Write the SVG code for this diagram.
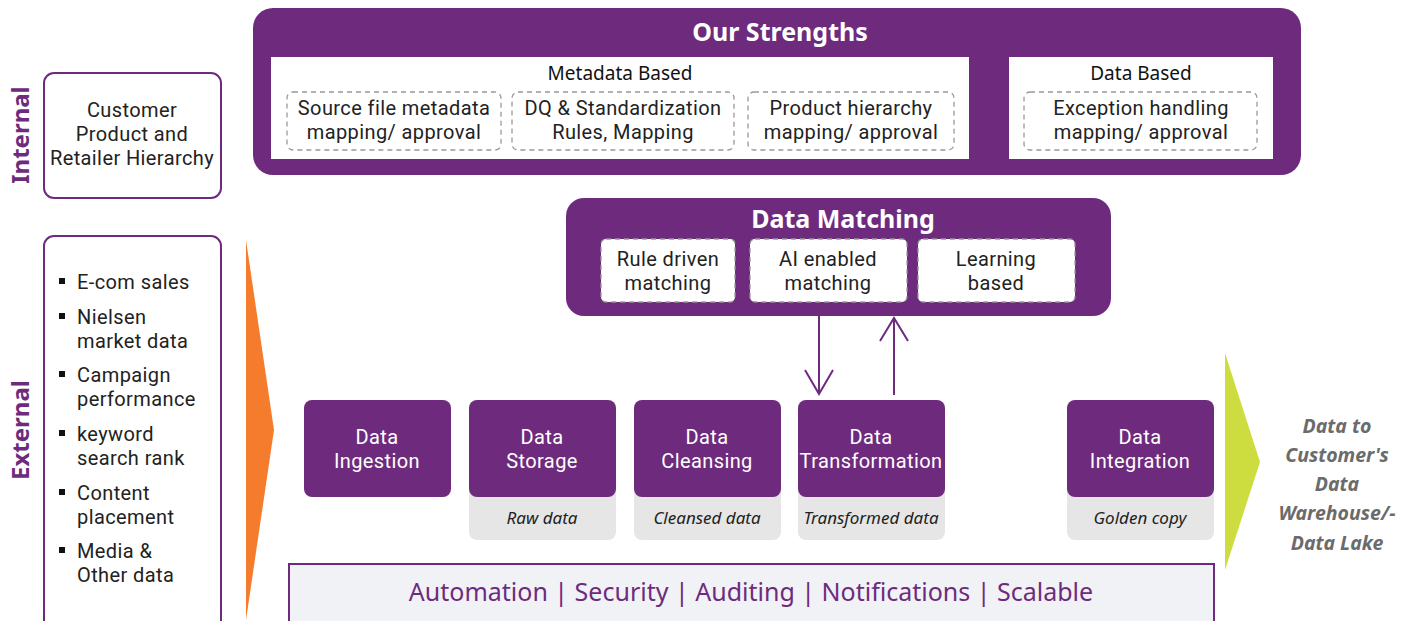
<svg xmlns="http://www.w3.org/2000/svg" width="1416" height="621" viewBox="0 0 1416 621">
<style>
text{font-family:"Noto Sans","Open Sans","Liberation Sans",sans-serif}
.pur{fill:#6E2B7E}
.title{fill:#fff;font-weight:bold;font-size:25px;text-anchor:middle}
.sub{fill:#111;font-size:19px;text-anchor:middle}
.ml{font-family:Roboto,"Liberation Sans",sans-serif;font-size:20px;letter-spacing:0.4px}
.t{fill:#222;text-anchor:middle}
.dash{fill:#fff;stroke:#999;stroke-width:1.3;stroke-dasharray:5 4}
.outl{fill:#fff;stroke:#6E2B7E;stroke-width:2}
.side{fill:#6E2B7E;font-weight:bold;font-size:24px;text-anchor:middle}
.li{fill:#222}
.wt{fill:#fff;text-anchor:middle}
.cap{fill:#222;font-size:17px;font-style:italic;text-anchor:middle}
.grey{fill:#E6E6E6}
.out{fill:#6B6B6B;font-size:19.5px;font-weight:bold;font-style:italic;text-anchor:middle}
.conn{stroke:#6E2B7E;stroke-width:2;fill:none}
</style>

<g id="internal-label"><text class="side" transform="translate(29,135) rotate(-90)">Internal</text></g>
<g id="external-label"><text class="side" transform="translate(29,430) rotate(-90)">External</text></g>

<g id="hierarchy">
<rect class="outl" x="44" y="73" width="177" height="125" rx="10"/>
<text class="ml t" x="132" y="117">Customer<tspan x="132" dy="24">Product and</tspan><tspan x="132" dy="24">Retailer Hierarchy</tspan></text>
</g>

<g id="external-sources">
<rect class="outl" x="44" y="236" width="177" height="400" rx="10"/>
<g fill="#111">
<rect x="59" y="278" width="6" height="6"/>
<rect x="59" y="313" width="6" height="6"/>
<rect x="59" y="371" width="6" height="6"/>
<rect x="59" y="430" width="6" height="6"/>
<rect x="59" y="489" width="6" height="6"/>
<rect x="59" y="547" width="6" height="6"/>
</g>
<text class="ml li" x="77" y="289">E-com sales</text>
<text class="ml li" x="77" y="324">Nielsen<tspan x="77" dy="24">market data</tspan></text>
<text class="ml li" x="77" y="382">Campaign<tspan x="77" dy="24">performance</tspan></text>
<text class="ml li" x="77" y="441">keyword<tspan x="77" dy="24">search rank</tspan></text>
<text class="ml li" x="77" y="500">Content<tspan x="77" dy="24">placement</tspan></text>
<text class="ml li" x="77" y="558">Media &amp;<tspan x="77" dy="24">Other data</tspan></text>
</g>

<g id="orange-arrow"><polygon points="246,240 274,430 246,620" fill="#F47C2C"/></g>

<g id="strengths">
<rect class="pur" x="253" y="8" width="1048" height="167" rx="20"/>
<text class="title" x="780" y="41">Our Strengths</text>
<rect x="271" y="57" width="698" height="102" fill="#fff"/>
<rect x="1009" y="57" width="264" height="102" fill="#fff"/>
<text class="sub" x="620" y="80">Metadata Based</text>
<text class="sub" x="1141" y="80">Data Based</text>
<rect class="dash" x="287" y="92" width="214" height="58" rx="6"/>
<rect class="dash" x="512" y="92" width="222" height="58" rx="6"/>
<rect class="dash" x="748" y="92" width="206" height="58" rx="6"/>
<rect class="dash" x="1024" y="92" width="233" height="58" rx="6"/>
<text class="ml t" x="394" y="115">Source file metadata<tspan x="394" dy="24">mapping/ approval</tspan></text>
<text class="ml t" x="623" y="115">DQ &amp; Standardization<tspan x="623" dy="24">Rules, Mapping</tspan></text>
<text class="ml t" x="851" y="115">Product hierarchy<tspan x="851" dy="24">mapping/ approval</tspan></text>
<text class="ml t" x="1141" y="115">Exception handling<tspan x="1141" dy="24">mapping/ approval</tspan></text>
</g>

<g id="data-matching">
<rect class="pur" x="566" y="198" width="545" height="118" rx="18"/>
<text class="title" x="843" y="228">Data Matching</text>
<rect class="dash" x="601" y="239" width="134" height="63" rx="5"/>
<rect class="dash" x="750" y="239" width="157" height="63" rx="5"/>
<rect class="dash" x="918" y="239" width="157" height="63" rx="5"/>
<text class="ml t" x="668" y="266">Rule driven<tspan x="668" dy="24">matching</tspan></text>
<text class="ml t" x="828" y="266">AI enabled<tspan x="828" dy="24">matching</tspan></text>
<text class="ml t" x="996" y="266">Learning<tspan x="996" dy="24">based</tspan></text>
</g>

<g id="connectors">
<line class="conn" x1="819" y1="316" x2="819" y2="394"/>
<polyline class="conn" points="805,370 819,394 833,370"/>
<line class="conn" x1="894" y1="395" x2="894" y2="318"/>
<polyline class="conn" points="880,341 894,318 908,341"/>
</g>

<g id="ingestion">
<rect class="pur" x="304" y="400" width="147" height="97" rx="8"/>
<text class="ml wt" x="377" y="444">Data<tspan x="377" dy="24">Ingestion</tspan></text>
</g>
<g id="storage">
<rect class="grey" x="469" y="480" width="147" height="60" rx="8"/>
<rect class="pur" x="469" y="400" width="147" height="97" rx="8"/>
<text class="ml wt" x="542" y="444">Data<tspan x="542" dy="24">Storage</tspan></text>
<text class="cap" x="542" y="524">Raw data</text>
</g>
<g id="cleansing">
<rect class="grey" x="634" y="480" width="147" height="60" rx="8"/>
<rect class="pur" x="634" y="400" width="147" height="97" rx="8"/>
<text class="ml wt" x="707" y="444">Data<tspan x="707" dy="24">Cleansing</tspan></text>
<text class="cap" x="707" y="524">Cleansed data</text>
</g>
<g id="transformation">
<rect class="grey" x="798" y="480" width="147" height="60" rx="8"/>
<rect class="pur" x="798" y="400" width="147" height="97" rx="8"/>
<text class="ml wt" x="871" y="444">Data<tspan x="871" dy="24">Transformation</tspan></text>
<text class="cap" x="871" y="524">Transformed data</text>
</g>
<g id="integration">
<rect class="grey" x="1067" y="480" width="147" height="60" rx="8"/>
<rect class="pur" x="1067" y="400" width="147" height="97" rx="8"/>
<text class="ml wt" x="1140" y="444">Data<tspan x="1140" dy="24">Integration</tspan></text>
<text class="cap" x="1140" y="524">Golden copy</text>
</g>

<g id="green-arrow"><polygon points="1225,353 1260,462 1225,570" fill="#CDDC3E"/></g>

<g id="output">
<text class="out" x="1337" y="433">Data to<tspan x="1337" dy="29">Customer's</tspan><tspan x="1337" dy="29">Data</tspan><tspan x="1337" dy="29">Warehouse/-</tspan><tspan x="1337" dy="30">Data Lake</tspan></text>
</g>

<g id="features">
<rect x="289" y="564" width="925" height="70" fill="#F1F2F5" stroke="#6E2B7E" stroke-width="2"/>
<text x="751" y="601" fill="#6E2B7E" font-size="25" text-anchor="middle">Automation | Security | Auditing | Notifications | Scalable</text>
</g>
</svg>
